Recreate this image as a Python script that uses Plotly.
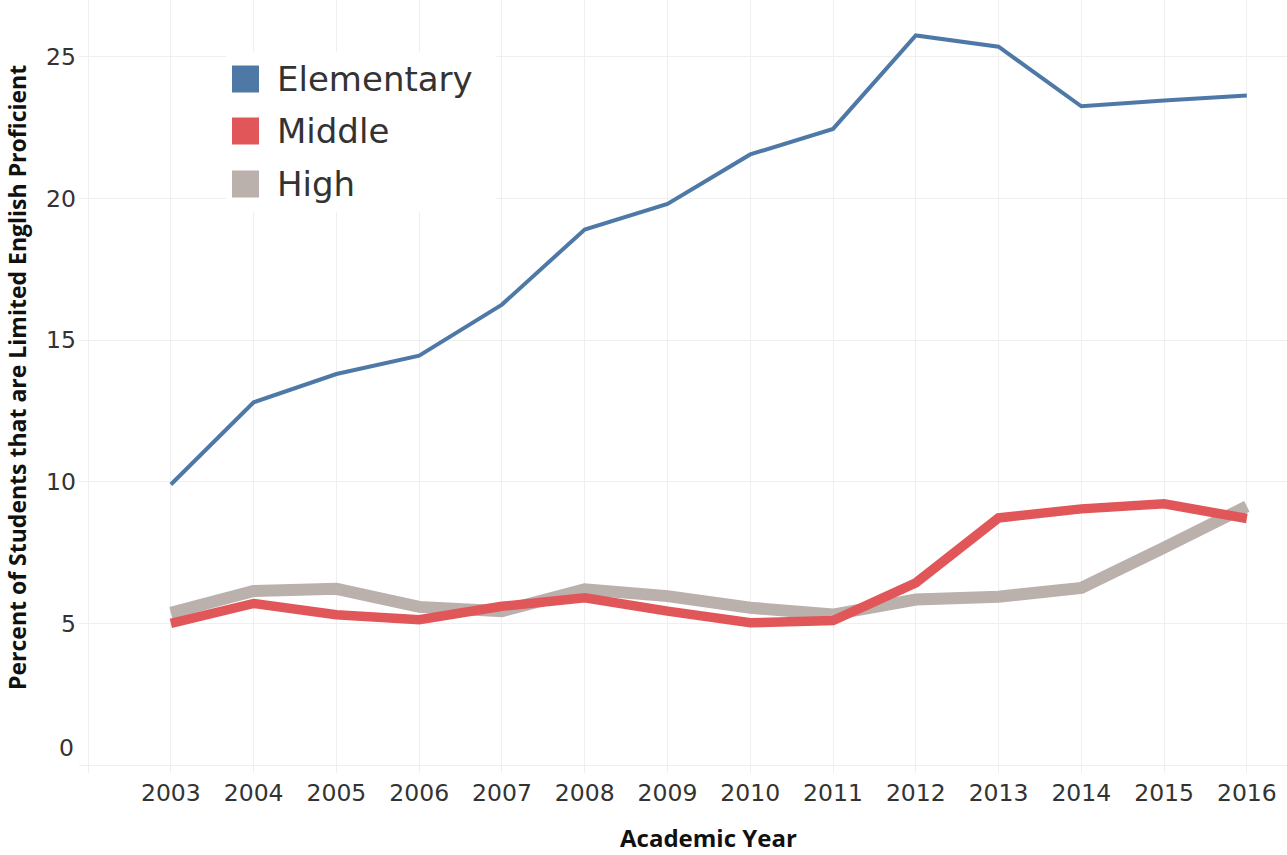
import plotly.graph_objects as go

# Academic years and share of students who are Limited English Proficient (%)
years = [2003, 2004, 2005, 2006, 2007, 2008, 2009, 2010, 2011, 2012, 2013, 2014, 2015, 2016]
elementary = [9.9, 12.8, 13.8, 14.45, 16.25, 18.9, 19.8, 21.55, 22.45, 25.75, 25.35, 23.25, 23.45, 23.63]
middle = [5.0, 5.7, 5.3, 5.13, 5.6, 5.9, 5.43, 5.02, 5.1, 6.43, 8.72, 9.04, 9.22, 8.7]
high = [5.37, 6.14, 6.22, 5.58, 5.43, 6.2, 5.96, 5.55, 5.31, 5.84, 5.94, 6.25, 7.67, 9.13]

series_names = ["Elementary", "Middle", "High"]
series_colors = ["#4e79a7", "#e15759", "#bab0ac"]
series_widths = [4, 9.5, 12]
series_values = [elementary, middle, high]

x_tickvals = [2002] + years
x_ticktext = [""] + [str(y) for y in years]
y_tickvals = [5, 10, 15, 20, 25]

x_title = "Academic Year"
y_title = "Percent of Students that are Limited English Proficient"

W, H = 1287, 855
L, R, T, B = 79, 0, 0, 90
plot_w = W - L - R
plot_h = H - T - B


def px_x(px):
    return (px - L) / plot_w


def px_y(py):
    return (H - B - py) / plot_h


fig = go.Figure()

# draw High first so the thinner lines sit on top
for i in [2, 1, 0]:
    fig.add_trace(go.Scatter(
        x=years, y=series_values[i], mode="lines", name=series_names[i],
        line=dict(color=series_colors[i], width=series_widths[i]),
        showlegend=False, hoverinfo="x+y+name",
    ))

grid = "#efefef"
tick_font = dict(family="DejaVu Sans", size=23.5, color="#333333")

fig.update_xaxes(
    range=[2001.89, 2016.485], tickvals=x_tickvals, ticktext=x_ticktext,
    showgrid=True, gridcolor=grid, gridwidth=1, zeroline=False,
    ticks="outside", ticklen=7, tickcolor=grid, tickwidth=1,
    tickfont=tick_font, showline=False,
)
fig.update_yaxes(
    range=[0, 27], tickvals=y_tickvals, ticktext=[str(v) for v in y_tickvals],
    showgrid=True, gridcolor=grid, gridwidth=1, zeroline=True, zerolinecolor=grid, zerolinewidth=1,
    ticks="", tickfont=tick_font, showline=False, ticklabelstandoff=2,
)

annotations = [
    # "0" label sits just above the baseline
    dict(x=0, xref="paper", y=0, yref="y", text="0", showarrow=False,
         xanchor="right", yanchor="middle", xshift=-3, yshift=17, font=tick_font),
    # axis titles
    dict(x=px_x(708), xref="paper", y=px_y(837), yref="paper", text=f"<b>{x_title}</b>",
         showarrow=False, xanchor="center", yanchor="middle",
         font=dict(family="Open Sans", size=24, color="#111111")),
    dict(x=px_x(17), xref="paper", y=px_y(378), yref="paper", text=f"<b>{y_title}</b>",
         showarrow=False, xanchor="center", yanchor="middle", textangle=-90,
         font=dict(family="Open Sans", size=23, color="#111111")),
]

# legend drawn as a white panel with square swatches
shapes = [dict(
    type="rect", xref="paper", yref="paper", layer="above",
    x0=px_x(226), x1=px_x(496), y0=px_y(212), y1=px_y(52),
    fillcolor="white", line=dict(width=0),
)]
row_centers = [79, 131, 184]
for name, color, cy in zip(series_names, series_colors, row_centers):
    shapes.append(dict(
        type="rect", xref="paper", yref="paper", layer="above",
        x0=px_x(232), x1=px_x(259), y0=px_y(cy + 13.5), y1=px_y(cy - 13.5),
        fillcolor=color, line=dict(width=0),
    ))
    annotations.append(dict(
        x=px_x(275), xref="paper", y=px_y(cy), yref="paper", text=name,
        showarrow=False, xanchor="left", yanchor="middle",
        font=dict(family="DejaVu Sans", size=34, color="#333333"),
    ))

fig.update_layout(
    width=W, height=H, margin=dict(l=L, r=R, t=T, b=B, autoexpand=False),
    plot_bgcolor="white", paper_bgcolor="white",
    shapes=shapes, annotations=annotations, showlegend=False,
)

fig.write_html("out.html")
